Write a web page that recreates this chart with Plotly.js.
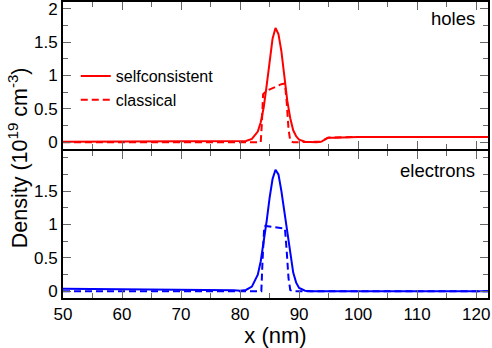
<!DOCTYPE html>
<html>
<head>
<meta charset="utf-8">
<script src="https://cdn.plot.ly/plotly-3.0.1.min.js"></script>
<style>html,body{margin:0;padding:0;background:#fff;}#chart{width:492px;height:348px;}</style>
</head>
<body>
<div id="chart"></div>
<script>
// Holes, self-consistent
const holesScX = [50, 60, 70, 78, 80, 81, 82, 83, 83.5, 84, 84.5, 85, 85.5, 86, 86.5, 87, 87.5, 88, 88.5, 89, 89.5, 90, 91, 92, 93, 93.8, 94.3, 94.9, 96, 100, 110, 122];
const holesScY = [0.01, 0.01, 0.01, 0.01, 0.01, 0.02, 0.05, 0.16, 0.3, 0.52, 0.85, 1.22, 1.55, 1.71, 1.62, 1.36, 0.98, 0.62, 0.36, 0.18, 0.09, 0.04, 0.01, 0.0, 0.0, 0.01, 0.04, 0.07, 0.07, 0.08, 0.08, 0.08];
// Holes, classical
const holesClX = [50, 70, 83.5, 83.7, 83.9, 84.5, 85, 86, 87, 87.6, 87.9, 88.2, 88.5, 89, 92, 93.8, 94.3, 94.9, 100, 122];
const holesClY = [0.0, 0.0, 0.0, 0.3, 0.72, 0.77, 0.79, 0.83, 0.87, 0.88, 0.6, 0.2, 0.02, 0.0, 0.0, 0.01, 0.04, 0.07, 0.08, 0.08];
// Electrons, self-consistent
const elecScX = [50, 60, 70, 76, 79, 80, 81, 82, 83, 83.5, 84, 84.5, 85, 85.5, 86, 86.5, 87, 87.5, 88, 88.5, 89, 89.5, 90, 91, 92, 100, 122];
const elecScY = [0.04, 0.035, 0.03, 0.025, 0.015, 0.01, 0.02, 0.07, 0.25, 0.45, 0.72, 1.05, 1.4, 1.68, 1.82, 1.75, 1.5, 1.18, 0.84, 0.52, 0.28, 0.13, 0.05, 0.01, 0.0, 0.0, 0.0];
// Electrons, classical
const elecClX = [50, 70, 80, 83.6, 83.8, 84.1, 85, 86, 87, 87.6, 87.9, 88.2, 88.5, 89, 100, 122];
const elecClY = [0.0, 0.0, 0.0, 0.0, 0.45, 0.98, 0.97, 0.96, 0.95, 0.94, 0.6, 0.2, 0.02, 0.0, 0.0, 0.0];

const xTicks = [50, 60, 70, 80, 90, 100, 110, 120];
const yTicksTop = [0, 0.5, 1, 1.5, 2];
const yTicksTopText = ['0', '0.5', '1', '1.5', '2'];
const yTicksBot = [0, 0.5, 1, 1.5];
const yTicksBotText = ['0', '0.5', '1', '1.5'];

const RED = '#ff0000', BLUE = '#0000ff';
const DASH = '7px,4px';

const traces = [
  {x: holesScX, y: holesScY, xaxis: 'x2', yaxis: 'y2', mode: 'lines', name: 'selfconsistent',
   line: {color: RED, width: 2}, showlegend: true},
  {x: holesClX, y: holesClY, xaxis: 'x2', yaxis: 'y2', mode: 'lines', name: 'classical',
   line: {color: RED, width: 2, dash: DASH}, showlegend: true},
  {x: elecScX, y: elecScY, xaxis: 'x', yaxis: 'y', mode: 'lines', name: 'selfconsistent',
   line: {color: BLUE, width: 2}, showlegend: false},
  {x: elecClX, y: elecClY, xaxis: 'x', yaxis: 'y', mode: 'lines', name: 'classical',
   line: {color: BLUE, width: 2, dash: DASH}, showlegend: false}
];

const FONT = '"Liberation Sans", Arial, Helvetica, sans-serif';
const minorTicks = (d) => ({dtick: d, ticks: 'inside', ticklen: 5, tickcolor: '#666', tickwidth: 1});
const axisCommon = {
  showline: true, linecolor: '#000', linewidth: 2, mirror: 'ticks',
  ticks: 'inside', ticklen: 8, tickwidth: 1, tickcolor: '#666',
  showgrid: false, zeroline: false, ticklabeloverflow: 'allow',
  tickfont: {family: FONT, size: 17, color: '#000'}
};
const g = 1 / 296;

const layout = {
  width: 492, height: 348,
  margin: {l: 63, r: 4, t: 2, b: 50},
  paper_bgcolor: '#fff', plot_bgcolor: '#fff',
  font: {family: FONT, color: '#000'},
  showlegend: true,
  legend: {x: 0.03, y: 0.807, xanchor: 'left', yanchor: 'top', bgcolor: 'rgba(0,0,0,0)',
           font: {family: FONT, size: 16, color: '#000'}, tracegroupgap: 0},
  xaxis: Object.assign({}, axisCommon, {
    domain: [0, 1], anchor: 'y', range: [50, 122],
    tickvals: xTicks, ticktext: xTicks.map(String),
    minor: Object.assign(minorTicks(5), {tick0: 50}),
    title: {text: 'x (nm)', font: {family: FONT, size: 22, color: '#000'}, standoff: 1}
  }),
  xaxis2: Object.assign({}, axisCommon, {
    domain: [0, 1], anchor: 'y2', range: [50, 122], matches: 'x',
    tickvals: xTicks, showticklabels: false,
    minor: Object.assign(minorTicks(5), {tick0: 50})
  }),
  yaxis: Object.assign({}, axisCommon, {
    domain: [0, 0.5 - g], anchor: 'x', range: [-0.1, 2.1],
    tickvals: yTicksBot, ticktext: yTicksBotText,
    minor: Object.assign(minorTicks(0.25), {tick0: 0})
  }),
  yaxis2: Object.assign({}, axisCommon, {
    domain: [0.5 + g, 1], anchor: 'x2', range: [-0.1, 2.1],
    tickvals: yTicksTop, ticktext: yTicksTopText,
    minor: Object.assign(minorTicks(0.25), {tick0: 0})
  }),
  annotations: [
    {text: 'Density (10<sup>19</sup> cm<sup>-3</sup>)', xref: 'paper', yref: 'paper',
     x: -0.104, y: 0.475, xanchor: 'center', yanchor: 'middle', textangle: -90, showarrow: false,
     font: {family: FONT, size: 21.5, color: '#000'}},
    {text: 'holes', xref: 'paper', yref: 'paper', x: 0.974, y: 0.985, xanchor: 'right', yanchor: 'top',
     showarrow: false, font: {family: FONT, size: 18.5, color: '#000'}},
    {text: 'electrons', xref: 'paper', yref: 'paper', x: 0.974, y: 0.472, xanchor: 'right', yanchor: 'top',
     showarrow: false, font: {family: FONT, size: 18.5, color: '#000'}}
  ]
};

Plotly.newPlot('chart', traces, layout, {staticPlot: true, displayModeBar: false});
</script>
</body>
</html>
